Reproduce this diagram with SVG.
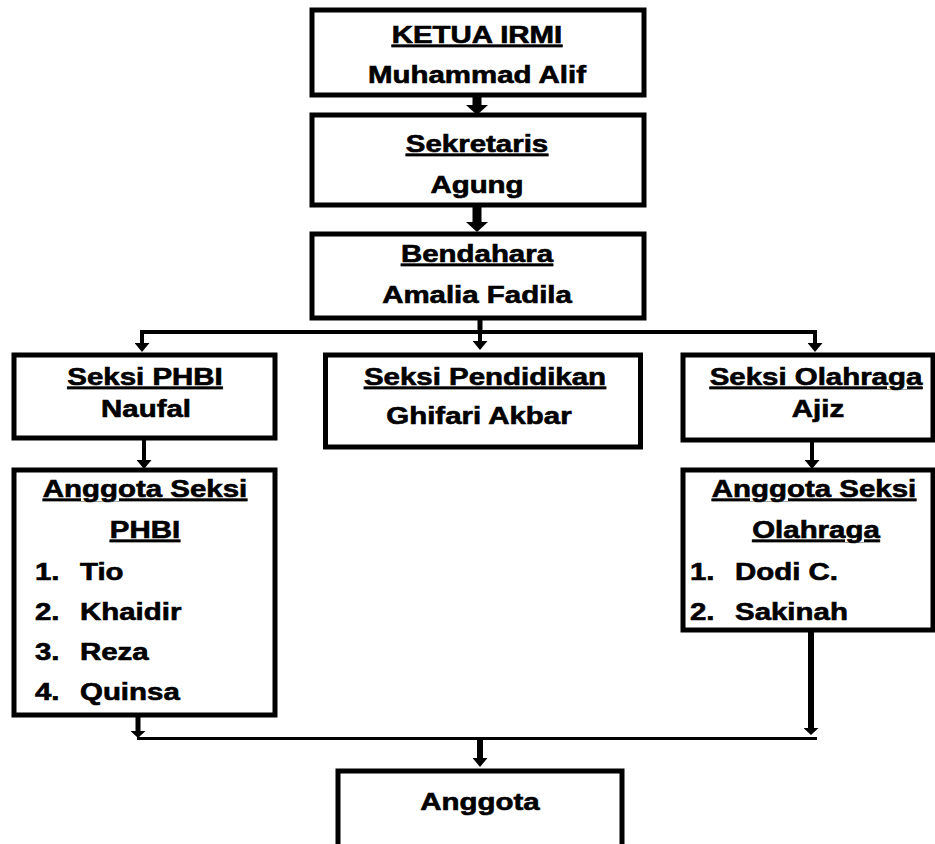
<svg xmlns="http://www.w3.org/2000/svg" width="935" height="844" viewBox="0 0 935 844">
<style>
.box{fill:#fff;stroke:#000;stroke-width:5}
.t{font-family:"Liberation Sans",Arial,sans-serif;font-weight:bold;font-size:23px;fill:#000;stroke:#000;stroke-width:0.6}
.c{text-anchor:middle}
.u{text-decoration:underline}
.ln{stroke:#000;fill:none}
</style>
<defs>
<marker id="ahL" viewBox="0 -11 10 22" markerWidth="10" markerHeight="22" refX="0" refY="0" orient="auto" markerUnits="userSpaceOnUse"><path d="M0,-11 L10,0 L0,11 z" fill="#000"/></marker>
<marker id="ahM" viewBox="0 -7.5 9 15" markerWidth="9" markerHeight="15" refX="0" refY="0" orient="auto" markerUnits="userSpaceOnUse"><path d="M0,-7.5 L9,0 L0,7.5 z" fill="#000"/></marker>
<marker id="ahS" viewBox="0 -7.5 7 15" markerWidth="7" markerHeight="15" refX="0" refY="0" orient="auto" markerUnits="userSpaceOnUse"><path d="M0,-7.5 L7,0 L0,7.5 z" fill="#000"/></marker>
</defs>
<rect width="935" height="844" fill="#fff"/>

<g id="connectors">
<line class="ln" x1="477" y1="96" x2="477" y2="105" stroke-width="9" marker-end="url(#ahL)"/>
<line class="ln" x1="477" y1="206" x2="477" y2="222" stroke-width="9" marker-end="url(#ahL)"/>
<line class="ln" x1="480" y1="318" x2="480" y2="334" stroke-width="5"/>
<line class="ln" x1="142" y1="332" x2="815" y2="332" stroke-width="4"/>
<polyline class="ln" points="142,330 142,343" stroke-width="4" marker-end="url(#ahM)"/>
<line class="ln" x1="480" y1="332" x2="480" y2="341" stroke-width="4" marker-end="url(#ahM)"/>
<polyline class="ln" points="815,330 815,343" stroke-width="4" marker-end="url(#ahM)"/>
<line class="ln" x1="144" y1="440" x2="144" y2="460" stroke-width="4" marker-end="url(#ahM)"/>
<line class="ln" x1="812" y1="442" x2="812" y2="460" stroke-width="4" marker-end="url(#ahM)"/>
<line class="ln" x1="138" y1="717" x2="138" y2="731" stroke-width="5" marker-end="url(#ahS)"/>
<line class="ln" x1="811" y1="632" x2="811" y2="728" stroke-width="6" marker-end="url(#ahS)"/>
<line class="ln" x1="137" y1="738.5" x2="817" y2="738.5" stroke-width="3"/>
<line class="ln" x1="480" y1="739" x2="480" y2="758" stroke-width="6" marker-end="url(#ahM)"/>
</g>

<g id="ketua">
<rect class="box" x="312" y="10" width="332" height="85"/>
<text class="t c u" transform="translate(477 43) scale(1.28 1)">KETUA IRMI</text>
<text class="t c" transform="translate(477 83) scale(1.28 1)">Muhammad Alif</text>
</g>

<g id="sekretaris">
<rect class="box" x="312" y="115" width="332" height="90"/>
<text class="t c u" transform="translate(477 152) scale(1.28 1)">Sekretaris</text>
<text class="t c" transform="translate(477 193) scale(1.28 1)">Agung</text>
</g>

<g id="bendahara">
<rect class="box" x="312" y="234" width="332" height="84"/>
<text class="t c u" transform="translate(477 262) scale(1.28 1)">Bendahara</text>
<text class="t c" transform="translate(477 303) scale(1.28 1)">Amalia Fadila</text>
</g>

<g id="seksi-phbi">
<rect class="box" x="14" y="355" width="261" height="83"/>
<text class="t c u" transform="translate(145 385) scale(1.28 1)">Seksi PHBI</text>
<text class="t c" transform="translate(146 417) scale(1.28 1)">Naufal</text>
</g>

<g id="seksi-pendidikan">
<rect class="box" x="325.5" y="355" width="315" height="92"/>
<text class="t c u" transform="translate(485 385) scale(1.28 1)">Seksi Pendidikan</text>
<text class="t c" transform="translate(479 424) scale(1.28 1)">Ghifari Akbar</text>
</g>

<g id="seksi-olahraga">
<rect class="box" x="683" y="355" width="250" height="85"/>
<text class="t c u" transform="translate(816 385) scale(1.28 1)">Seksi Olahraga</text>
<text class="t c" transform="translate(818 417) scale(1.28 1)">Ajiz</text>
</g>

<g id="anggota-phbi">
<rect class="box" x="14" y="470" width="261" height="245"/>
<text class="t c u" transform="translate(145 497) scale(1.28 1)">Anggota Seksi</text>
<text class="t c u" transform="translate(145 538) scale(1.28 1)">PHBI</text>
<text class="t" transform="translate(35 580) scale(1.28 1)">1.</text>
<text class="t" transform="translate(80 580) scale(1.28 1)">Tio</text>
<text class="t" transform="translate(35 620) scale(1.28 1)">2.</text>
<text class="t" transform="translate(80 620) scale(1.28 1)">Khaidir</text>
<text class="t" transform="translate(35 660) scale(1.28 1)">3.</text>
<text class="t" transform="translate(80 660) scale(1.28 1)">Reza</text>
<text class="t" transform="translate(35 700) scale(1.28 1)">4.</text>
<text class="t" transform="translate(80 700) scale(1.28 1)">Quinsa</text>
</g>

<g id="anggota-olahraga">
<rect class="box" x="683" y="470" width="250" height="160"/>
<text class="t c u" transform="translate(814 497) scale(1.28 1)">Anggota Seksi</text>
<text class="t c u" transform="translate(816 538) scale(1.28 1)">Olahraga</text>
<text class="t" transform="translate(690 580) scale(1.28 1)">1.</text>
<text class="t" transform="translate(735 580) scale(1.28 1)">Dodi C.</text>
<text class="t" transform="translate(690 620) scale(1.28 1)">2.</text>
<text class="t" transform="translate(735 620) scale(1.28 1)">Sakinah</text>
</g>

<g id="anggota">
<rect class="box" x="338" y="771" width="284" height="100"/>
<text class="t c" transform="translate(480 810) scale(1.28 1)">Anggota</text>
</g>
</svg>
